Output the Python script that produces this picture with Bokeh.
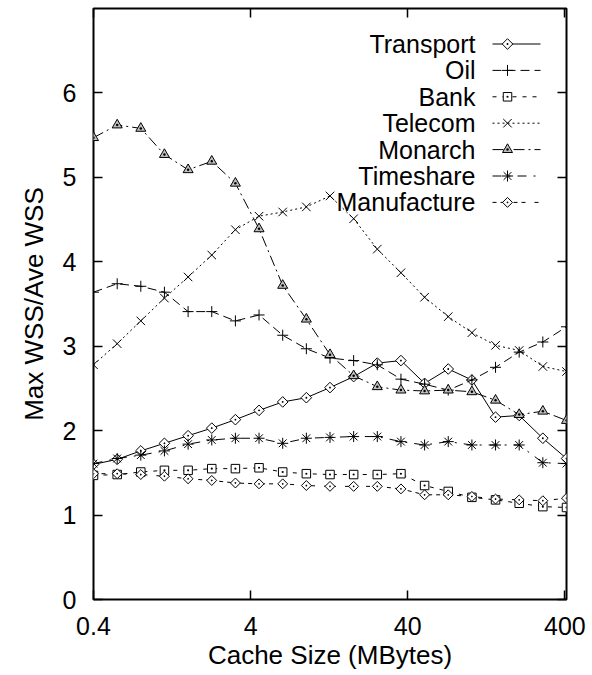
import math
from bokeh.plotting import figure
from bokeh.models import (LogAxis, LinearAxis, FixedTicker, Label, Range1d)
from bokeh.embed import file_html
from bokeh.resources import INLINE

# ---------------- data ----------------
cache_mb = [0.4, 0.566, 0.8, 1.131, 1.6, 2.263, 3.2, 4.525, 6.4, 9.051, 12.8,
            18.1, 25.6, 36.2, 51.2, 72.4, 102.4, 144.8, 204.8, 289.6, 409.6]

transport = [1.60, 1.66, 1.76, 1.85, 1.94, 2.03, 2.13, 2.24, 2.34, 2.39, 2.51,
             2.64, 2.80, 2.83, 2.56, 2.73, 2.60, 2.16, 2.18, 1.91, 1.67]
oil = [3.64, 3.74, 3.71, 3.64, 3.41, 3.41, 3.30, 3.37, 3.13, 2.97, 2.86,
       2.83, 2.78, 2.61, 2.55, 2.48, 2.60, 2.75, 2.93, 3.05, 3.23]
bank = [1.47, 1.48, 1.51, 1.53, 1.53, 1.55, 1.55, 1.56, 1.51, 1.49, 1.48,
        1.48, 1.48, 1.49, 1.35, 1.28, 1.21, 1.18, 1.14, 1.10, 1.09]
telecom = [2.78, 3.03, 3.30, 3.57, 3.82, 4.08, 4.38, 4.54, 4.59, 4.65, 4.78,
           4.51, 4.15, 3.87, 3.58, 3.35, 3.16, 3.01, 2.95, 2.76, 2.70]
monarch = [5.47, 5.62, 5.58, 5.27, 5.09, 5.19, 4.93, 4.39, 3.72, 3.32, 2.90,
           2.65, 2.52, 2.48, 2.47, 2.48, 2.46, 2.36, 2.19, 2.23, 2.12]
timeshare = [1.61, 1.67, 1.71, 1.76, 1.84, 1.89, 1.91, 1.91, 1.85, 1.91, 1.92,
             1.93, 1.93, 1.87, 1.83, 1.87, 1.83, 1.83, 1.83, 1.62, 1.61]
manufacture = [1.49, 1.49, 1.48, 1.46, 1.43, 1.41, 1.38, 1.37, 1.37, 1.35, 1.34,
               1.34, 1.34, 1.31, 1.24, 1.24, 1.22, 1.19, 1.18, 1.17, 1.20]

series_names = ["Transport", "Oil", "Bank", "Telecom", "Monarch", "Timeshare", "Manufacture"]
series_values = [transport, oil, bank, telecom, monarch, timeshare, manufacture]

x_ticks = [0.4, 4, 40, 400]
x_tick_labels = ["0.4", "4", "40", "400"]
y_ticks = [0, 1, 2, 3, 4, 5, 6]

# ---------------- layout / styles ----------------
W, H = 592, 675
BORDER_L, BORDER_R, BORDER_T, BORDER_B = 93, 26, 8, 76
FRAME_W = W - BORDER_L - BORDER_R
FRAME_H = H - BORDER_T - BORDER_B
X_LO, X_HI = 0.4, 409.6
Y_LO, Y_HI = 0.0, 7.0

FONT = "Liberation Sans"
FS = "25px"
FS_AXIS = "26px"
styles = {
    "Transport":   dict(dash="solid",    marker="square_dot",   size=7.5, angle=math.pi / 4, fill="white"),
    "Oil":         dict(dash="9 5",      marker="cross",        size=11,  angle=0.0,         fill="white"),
    "Bank":        dict(dash="4 6",      marker="square_dot",   size=8.5, angle=0.0,         fill="white"),
    "Telecom":     dict(dash="2 3",      marker="x",            size=12,  angle=0.0,         fill="white"),
    "Monarch":     dict(dash="11 4 2 4", marker="triangle_dot", size=10,  angle=0.0,         fill="#c0c0c0"),
    "Timeshare":   dict(dash="9 7 2 7",  marker="asterisk",     size=11,  angle=0.0,         fill="white"),
    "Manufacture": dict(dash="4 4 4 9",  marker="square_dot",   size=7,   angle=math.pi / 4, fill="white"),
}

# legend geometry (canvas pixels)
LEG_ROW0 = 43.5
LEG_PITCH = 26.4
LEG_TEXT_RIGHT = 475
LEG_LINE_X0, LEG_LINE_X1, LEG_MARK_X = 492, 540, 507


def px_to_x(px):
    f = (px - BORDER_L) / FRAME_W
    return 10 ** (math.log10(X_LO) + f * (math.log10(X_HI) - math.log10(X_LO)))


def py_to_y(py):
    f = (BORDER_T + FRAME_H - py) / FRAME_H
    return Y_LO + f * (Y_HI - Y_LO)


p = figure(width=W, height=H, x_axis_type="log",
           x_range=Range1d(X_LO, X_HI), y_range=Range1d(Y_LO, Y_HI),
           output_backend="svg", toolbar_location=None,
           min_border_left=BORDER_L, min_border_right=BORDER_R,
           min_border_top=BORDER_T, min_border_bottom=BORDER_B)
p.xgrid.visible = False
p.ygrid.visible = False
p.outline_line_color = "black"
p.outline_line_width = 2
p.background_fill_color = "white"
p.border_fill_color = "white"


def style_axis(ax, show_labels):
    ax.axis_line_color = None
    ax.major_tick_in = 9
    ax.major_tick_out = 0
    ax.minor_tick_in = 0
    ax.minor_tick_out = 0
    ax.minor_tick_line_color = None
    ax.major_tick_line_color = "black"
    ax.major_tick_line_width = 1.5
    if show_labels:
        ax.major_label_text_font = FONT
        ax.major_label_text_font_size = FS
        ax.major_label_text_color = "black"
        ax.axis_label_text_font = FONT
        ax.axis_label_text_font_size = FS_AXIS
        ax.axis_label_text_font_style = "normal"
        ax.axis_label_text_color = "black"
    else:
        ax.major_label_text_font_size = "0px"
        ax.major_label_standoff = 0


xb = p.xaxis[0]
xb.ticker = FixedTicker(ticks=x_ticks, minor_ticks=[])
xb.major_label_overrides = dict(zip(x_ticks, x_tick_labels))
style_axis(xb, True)
xb.major_label_standoff = 17
xb.axis_label = "Cache Size (MBytes)"
xb.axis_label_standoff = 2

yl = p.yaxis[0]
yl.ticker = FixedTicker(ticks=y_ticks, minor_ticks=[])
style_axis(yl, True)
yl.major_label_standoff = 17
yl.axis_label = "Max WSS/Ave WSS"
yl.axis_label_standoff = 11

xt = LogAxis(ticker=FixedTicker(ticks=x_ticks, minor_ticks=[]),
             major_label_overrides={t: "" for t in x_ticks})
style_axis(xt, False)
p.add_layout(xt, "above")

yr = LinearAxis(ticker=FixedTicker(ticks=y_ticks, minor_ticks=[]),
                major_label_overrides={t: "" for t in y_ticks})
style_axis(yr, False)
p.add_layout(yr, "right")

for i, (name, vals) in enumerate(zip(series_names, series_values)):
    st = styles[name]
    p.line(cache_mb, vals, line_color="black", line_width=1, line_dash=st["dash"])
    p.scatter(cache_mb, vals, marker=st["marker"], size=st["size"], angle=st["angle"],
              line_color="black", line_width=1, fill_color=st["fill"])

    # legend entry: name right-aligned, then a line sample with its marker
    row_py = LEG_ROW0 + LEG_PITCH * i
    row_y = py_to_y(row_py)
    p.line([px_to_x(LEG_LINE_X0), px_to_x(LEG_LINE_X1)], [row_y, row_y],
           line_color="black", line_width=1, line_dash=st["dash"])
    p.scatter([px_to_x(LEG_MARK_X)], [row_y], marker=st["marker"], size=st["size"],
              angle=st["angle"], line_color="black", line_width=1, fill_color=st["fill"])
    p.add_layout(Label(x=LEG_TEXT_RIGHT - BORDER_L, y=BORDER_T + FRAME_H - row_py,
                       x_units="screen", y_units="screen", text=name,
                       text_align="right", text_baseline="middle",
                       text_font=FONT, text_font_size=FS, text_color="black"))

open("out.html", "w").write(file_html(p, INLINE))
